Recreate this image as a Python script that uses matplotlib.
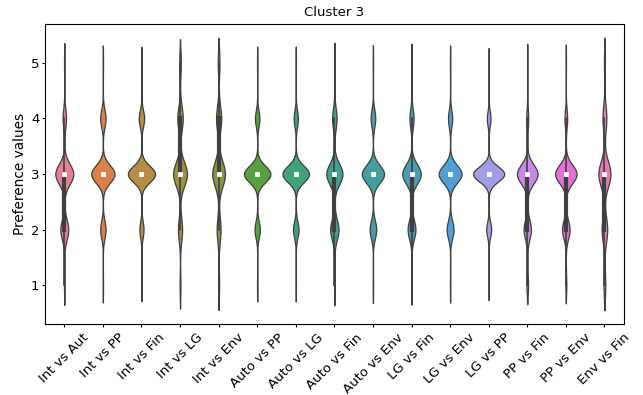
import numpy as np
import pandas as pd
import matplotlib
matplotlib.use("Agg")
import matplotlib.pyplot as plt
import seaborn as sns

# pairwise comparisons (x axis)
pairs = ['Int vs Aut', 'Int vs PP', 'Int vs Fin', 'Int vs LG', 'Int vs Env',
         'Auto vs PP', 'Auto vs LG', 'Auto vs Fin', 'Auto vs Env', 'LG vs Fin',
         'LG vs Env', 'LG vs PP', 'PP vs Fin', 'PP vs Env', 'Env vs Fin']

# preference scale
levels = [1, 2, 3, 4, 5]

# number of answers per level (1..5) for each pair
int_aut = [20, 260, 590, 110, 20]
int_pp = [10, 155, 670, 155, 10]
int_fin = [10, 110, 725, 145, 10]
int_lg = [30, 160, 540, 210, 60]
int_env = [40, 160, 520, 210, 70]
auto_pp = [10, 145, 715, 120, 10]
auto_lg = [10, 150, 715, 115, 10]
auto_fin = [20, 280, 540, 150, 10]
auto_env = [10, 195, 650, 135, 10]
lg_fin = [20, 250, 590, 130, 10]
lg_env = [10, 200, 660, 120, 10]
lg_pp = [10, 120, 770, 90, 10]
pp_fin = [50, 230, 650, 60, 10]
pp_env = [30, 230, 650, 80, 10]
env_fin = [70, 230, 500, 160, 40]

counts = [int_aut, int_pp, int_fin, int_lg, int_env, auto_pp, auto_lg, auto_fin,
          auto_env, lg_fin, lg_env, lg_pp, pp_fin, pp_env, env_fin]

rows = []
for name, c in zip(pairs, counts):
    vals = np.repeat(levels, c)
    rows.append(pd.DataFrame({'pair': name, 'value': vals}))
df = pd.concat(rows, ignore_index=True)

colors = sns.husl_palette(len(pairs))

fig = plt.figure(figsize=(6.43, 3.95), dpi=100)
ax = fig.add_axes([0.070, 0.180, 0.900, 0.759])
sns.violinplot(data=df, x='pair', y='value', hue='pair', order=pairs,
               palette=colors, legend=False, ax=ax, saturation=0.75,
               common_norm=True, linewidth=0.9, linecolor='#3f3f3f',
               inner_kws=dict(box_width=3, whis_width=1.2, marker='s',
                              markersize=2.2))

ax.set_title("Cluster 3", fontsize=9.5)
ax.set_xlabel("")
ax.set_ylabel("Preference values", fontsize=9.8, labelpad=2.5)
ax.set_yticks([1, 2, 3, 4, 5])
ax.tick_params(axis='both', length=2.5, width=0.8, pad=2.5)
ax.tick_params(axis='y', labelsize=9.5, pad=1.5)
plt.xticks(rotation=45, fontsize=9.5)

fig.savefig("out.png", dpi=100)
